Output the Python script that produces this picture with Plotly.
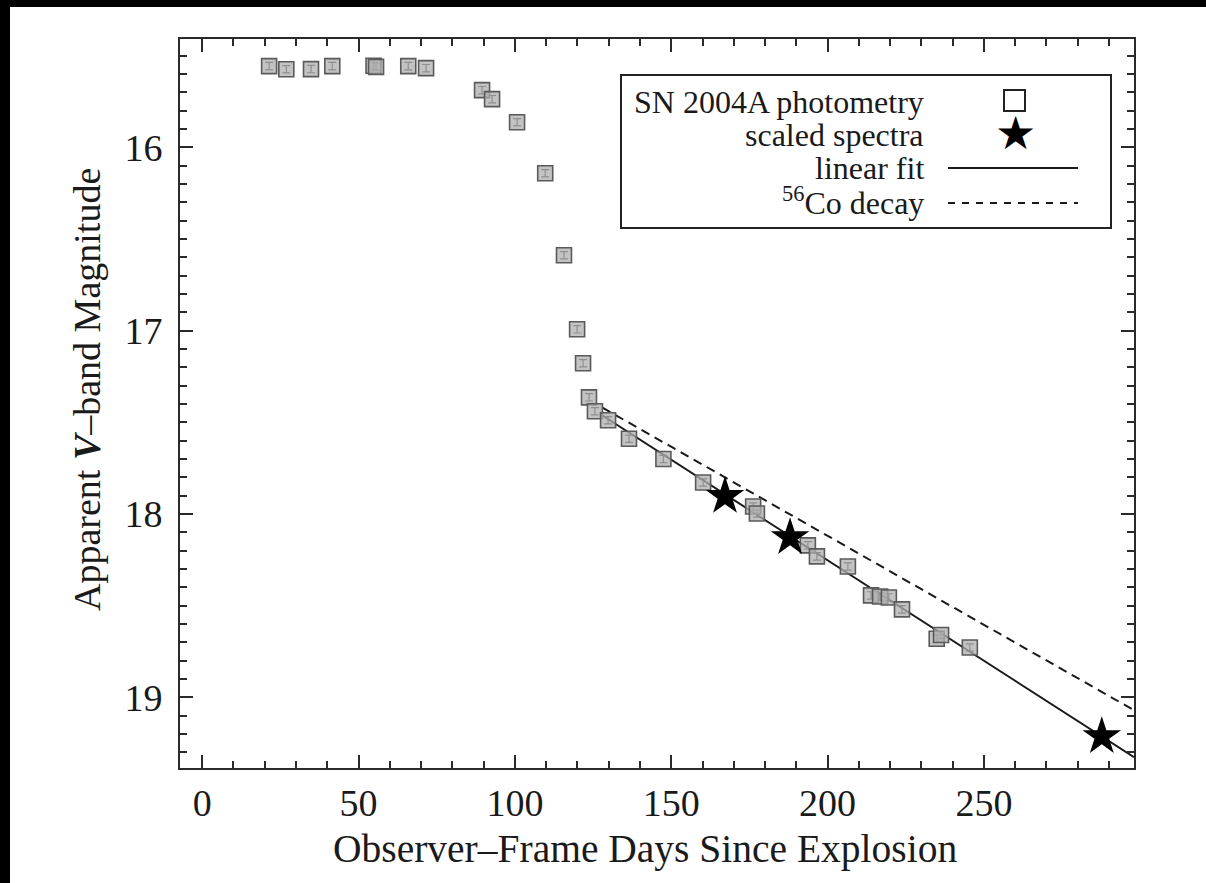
import plotly.graph_objects as go

# SN 2004A V-band photometry (observer-frame days, apparent magnitude)
phot_days = [21.4, 26.9, 34.8, 41.6, 54.8, 55.6, 65.9, 71.6, 89.5, 92.7,
             100.7, 109.7, 115.7, 119.9, 121.8, 123.7, 125.6, 129.8, 136.5, 147.5,
             160.2, 176.2, 177.4, 193.7, 196.6, 206.5, 213.9, 216.8, 219.6, 223.8,
             234.9, 236.3, 245.5]
phot_mag = [15.558, 15.575, 15.574, 15.558, 15.556, 15.562, 15.558, 15.569, 15.689, 15.738,
            15.864, 16.142, 16.589, 16.993, 17.178, 17.364, 17.440, 17.489, 17.590, 17.700,
            17.828, 17.959, 17.997, 18.171, 18.231, 18.286, 18.444, 18.450, 18.455, 18.520,
            18.680, 18.660, 18.728]
phot_err = 0.02

# Magnitudes of the flux-scaled spectra
spec_days = [167.2, 188.0, 287.7]
spec_mag = [17.904, 18.128, 19.213]

# Linear fit to the tail and the 56Co decay slope, as end points
fit_days = [128.0, 298.0]
fit_mag = [17.463, 19.326]
co_days = [128.0, 298.0]
co_mag = [17.42, 19.07]

x_ticks = [0, 50, 100, 150, 200, 250]
y_ticks = [16, 17, 18, 19]

W, H = 1206, 883
L, R, T, B = 180, 72, 39, 115
SERIF = "Liberation Serif, Times New Roman, serif"
INK = "#1a1a1a"


def px_x(p):
    return (p - L) / (W - L - R)


def px_y(p):
    return 1 - (p - T) / (H - T - B)


fig = go.Figure()

fig.add_trace(go.Scatter(
    x=co_days, y=co_mag, mode="lines",
    line=dict(color=INK, width=2, dash="9px,6px"),
    hoverinfo="skip", showlegend=False,
))
fig.add_trace(go.Scatter(
    x=fit_days, y=fit_mag, mode="lines",
    line=dict(color=INK, width=2),
    hoverinfo="skip", showlegend=False,
))
fig.add_trace(go.Scatter(
    x=phot_days, y=phot_mag, mode="markers",
    marker=dict(symbol="square", size=15, color="rgba(175,175,175,0.75)",
                line=dict(color="#5a5a5a", width=1.6)),
    error_y=dict(type="constant", value=phot_err, thickness=1.2, width=4, color="#333333"),
    showlegend=False,
))
fig.add_trace(go.Scatter(
    x=spec_days, y=spec_mag, mode="markers",
    marker=dict(symbol="star", size=29, color="black", line=dict(width=0)),
    showlegend=False,
))

axis_common = dict(
    showgrid=False, zeroline=False,
    showline=True, linecolor="#2a2a2a", linewidth=2, mirror="allticks",
    ticks="inside", ticklen=13, tickwidth=2, tickcolor="#2a2a2a",
    tickfont=dict(family=SERIF, size=38, color=INK),
)

fig.update_xaxes(
    range=[-7.1, 298.0], tickvals=x_ticks, ticktext=[str(v) for v in x_ticks],
    minor=dict(ticks="inside", dtick=10, tick0=0, ticklen=7, tickwidth=2, tickcolor="#2a2a2a"),
    **axis_common,
)
fig.update_yaxes(
    range=[19.385, 15.41], tickvals=y_ticks, ticktext=[str(v) for v in y_ticks],
    minor=dict(ticks="inside", dtick=0.1, tick0=16, ticklen=7, tickwidth=2, tickcolor="#2a2a2a"),
    ticklabelstandoff=8,
    **axis_common,
)

shapes = [
    # legend frame
    dict(type="rect", xref="paper", yref="paper",
         x0=px_x(621), x1=px_x(1111), y0=px_y(228), y1=px_y(75),
         line=dict(color="#222222", width=2), fillcolor="white", layer="below"),
    # legend keys: open square, solid and dashed lines
    dict(type="rect", xref="paper", yref="paper",
         x0=px_x(1004), x1=px_x(1025), y0=px_y(111), y1=px_y(90),
         line=dict(color="#222222", width=2), fillcolor="rgba(0,0,0,0)"),
    dict(type="line", xref="paper", yref="paper",
         x0=px_x(948), x1=px_x(1078), y0=px_y(168), y1=px_y(168),
         line=dict(color=INK, width=2)),
    dict(type="line", xref="paper", yref="paper",
         x0=px_x(948), x1=px_x(1078), y0=px_y(203), y1=px_y(203),
         line=dict(color=INK, width=2, dash="7px,7px")),
    # dark page edges
    dict(type="rect", xref="paper", yref="paper",
         x0=px_x(0), x1=px_x(10), y0=px_y(H), y1=px_y(0),
         line=dict(width=0), fillcolor="black"),
    dict(type="rect", xref="paper", yref="paper",
         x0=px_x(0), x1=px_x(W), y0=px_y(7), y1=px_y(0),
         line=dict(width=0), fillcolor="black"),
]

annotations = [
    # axis titles
    dict(text="Observer\u2013Frame Days Since Explosion", xref="paper", yref="paper",
         x=px_x(645), y=px_y(849), xanchor="center", yanchor="middle", showarrow=False,
         font=dict(family=SERIF, size=39.5, color=INK)),
    dict(text="Apparent <b><i>V</i></b>\u2013band Magnitude", xref="paper", yref="paper",
         x=px_x(87), y=px_y(390), xanchor="center", yanchor="middle", showarrow=False,
         textangle=-90, font=dict(family=SERIF, size=38, color=INK)),
]

legend_rows = [
    ("SN 2004A photometry", 102),
    ("scaled spectra", 135),
    ("linear fit", 168),
    ("<sup>56</sup>Co decay", 201),
]
for text, yc in legend_rows:
    annotations.append(dict(
        text=text, xref="paper", yref="paper", x=px_x(926), y=px_y(yc),
        xanchor="right", yanchor="middle", showarrow=False,
        font=dict(family=SERIF, size=32, color=INK),
    ))
annotations.append(dict(
    text="\u2605", xref="paper", yref="paper", x=px_x(1015), y=px_y(133),
    xanchor="center", yanchor="middle", showarrow=False,
    font=dict(family="DejaVu Sans", size=46, color="black"),
))

fig.update_layout(
    width=W, height=H,
    margin=dict(l=L, r=R, t=T, b=B, autoexpand=False),
    paper_bgcolor="white", plot_bgcolor="white",
    shapes=shapes, annotations=annotations,
    showlegend=False,
)

fig.write_html("out.html")
